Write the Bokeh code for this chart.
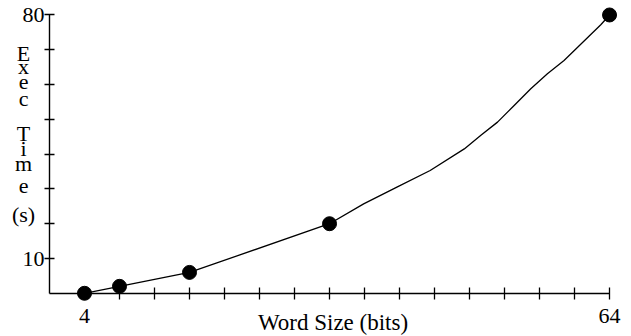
from bokeh.plotting import figure
from bokeh.models import LinearAxis, FixedTicker, Range1d, Label
from bokeh.embed import file_html
from bokeh.resources import INLINE

# ---- data ----
word_size = [4, 8, 16, 32, 64]
exec_time = [0, 2, 6, 20, 80]
curve_x = [4, 8, 16, 32, 35.9, 39.7, 43.5, 47.4, 49.3, 51.2, 53.1, 55.0, 56.9, 58.8, 63.0, 64]
curve_y = [0, 2, 6, 20, 25.7, 30.5, 35.3, 41.5, 45.4, 49.2, 54.0, 58.8, 63.1, 66.9, 77.2, 80]

x_ticks = [4, 8, 12, 16, 20, 24, 28, 32, 36, 40, 44, 48, 52, 56, 60, 64]
x_shown = {4: "4", 64: "64"}
y_ticks = [10, 20, 30, 40, 50, 60, 70, 80]
y_shown = {10: "10", 80: "80"}

x_title = "Word Size (bits)"
y_title_parts = ["E", "x", "e", "c", "T", "i", "m", "e", "(s)"]

# ---- styling / layout ----
FONT = "Liberation Serif"
y_title_base = [68.9, 65.3, 60.6, 56.1, 45.9, 41.6, 37.4, 30.9, 22.7]

p = figure(width=631, height=336, output_backend="svg", toolbar_location=None,
           x_range=Range1d(-5.6, 66.51), y_range=Range1d(-12.42, 84.16),
           x_axis_location=None, y_axis_location=None,
           min_border_left=0, min_border_right=0, min_border_top=0, min_border_bottom=0)
p.outline_line_color = None
p.grid.visible = False
p.background_fill_color = "white"
p.border_fill_color = "white"

xa = LinearAxis(fixed_location=0, bounds=(0, 64),
                ticker=FixedTicker(ticks=x_ticks, minor_ticks=[]),
                major_label_overrides={t: x_shown.get(t, "") for t in x_ticks})
ya = LinearAxis(fixed_location=0, bounds=(0, 80),
                ticker=FixedTicker(ticks=y_ticks, minor_ticks=[]),
                major_label_overrides={t: y_shown.get(t, "") for t in y_ticks})
for ax, tin, tout, so in ((xa, 6, 6, 10), (ya, 5, 5, 0)):
    ax.axis_line_color = "black"
    ax.axis_line_width = 1.4
    ax.major_tick_line_color = "black"
    ax.major_tick_line_width = 1.3
    ax.major_tick_in = tin
    ax.major_tick_out = tout
    ax.minor_tick_line_color = None
    ax.major_label_text_font = FONT
    ax.major_label_text_font_size = "22px"
    ax.major_label_text_color = "black"
    ax.major_label_standoff = so
p.add_layout(xa, "below")
p.add_layout(ya, "left")

p.line(curve_x, curve_y, line_color="black", line_width=1.3)
p.scatter(word_size, exec_time, size=14, fill_color="black", line_color="black")

p.add_layout(Label(x=32.4, y=-8.4, text=x_title, text_align="center",
                   text_baseline="alphabetic", text_font=FONT,
                   text_font_size="23px", text_color="black"))
for t, yb in zip(y_title_parts, y_title_base):
    p.add_layout(Label(x=-2.97, y=yb, text=t, text_align="center",
                       text_baseline="alphabetic", text_font=FONT,
                       text_font_size="22px", text_color="black"))

open("out.html", "w").write(file_html(p, INLINE))
